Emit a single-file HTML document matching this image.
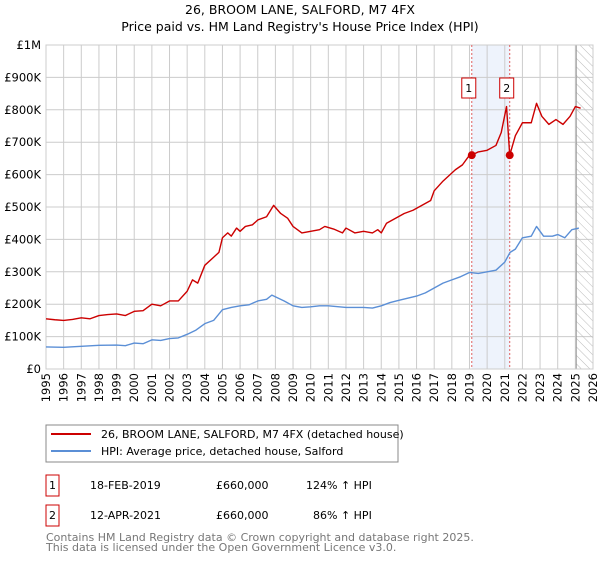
<!DOCTYPE html>
<html><head><meta charset="utf-8"><style>
body{margin:0;background:#fff;font-family:"Liberation Sans","DejaVu Sans",sans-serif;}
svg text{font-family:"DejaVu Sans","Liberation Sans",sans-serif;}
</style></head><body>
<svg id="chart" width="600" height="560" xmlns="http://www.w3.org/2000/svg">
<defs><pattern id="hatch" width="6" height="6" patternUnits="userSpaceOnUse" patternTransform="rotate(-45)"><line x1="0" y1="0" x2="0" y2="6" stroke="#bbb" stroke-width="1"/></pattern></defs>
<text x="300" y="14" text-anchor="middle" font-size="12.5">26, BROOM LANE, SALFORD, M7 4FX</text>
<text x="300" y="31" text-anchor="middle" font-size="12.5">Price paid vs. HM Land Registry's House Price Index (HPI)</text>
<g id="grid"></g><g id="marks"></g>
<g>
<rect x="46" y="425" width="352" height="37" fill="#fff" stroke="#888"/>
<line x1="51" y1="434" x2="91" y2="434" stroke="#cc0000" stroke-width="2"/>
<text x="101" y="438" font-size="11">26, BROOM LANE, SALFORD, M7 4FX (detached house)</text>
<line x1="51" y1="451" x2="91" y2="451" stroke="#5b8fd6" stroke-width="2"/>
<text x="101" y="455" font-size="11">HPI: Average price, detached house, Salford</text>
</g>
<g font-size="11">
<rect x="46" y="475" width="13" height="21" fill="#fff" stroke="#cc0000"/><text x="52.5" y="489" text-anchor="middle">1</text>
<text x="90" y="489">18-FEB-2019</text><text x="216" y="489">£660,000</text><text x="306" y="489">124% ↑ HPI</text>
<rect x="46" y="505" width="13" height="21" fill="#fff" stroke="#cc0000"/><text x="52.5" y="519" text-anchor="middle">2</text>
<text x="90" y="519">12-APR-2021</text><text x="216" y="519">£660,000</text><text x="313" y="519">86% ↑ HPI</text>
</g>
<text font-size="11" fill="#777"><tspan x="46" y="541">Contains HM Land Registry data © Crown copyright and database right 2025.</tspan><tspan x="46" y="551">This data is licensed under the Open Government Licence v3.0.</tspan></text>
</svg>
<script>
const yTicks=[0,100,200,300,400,500,600,700,800,900,1000];
const yTickLabels=["£0","£100K","£200K","£300K","£400K","£500K","£600K","£700K","£800K","£900K","£1M"];
const years=[1995,1996,1997,1998,1999,2000,2001,2002,2003,2004,2005,2006,2007,2008,2009,2010,2011,2012,2013,2014,2015,2016,2017,2018,2019,2020,2021,2022,2023,2024,2025,2026];
const redT=[1995,1995.5,1996,1996.5,1997,1997.5,1998,1998.5,1999,1999.5,2000,2000.5,2001,2001.5,2002,2002.5,2003,2003.3,2003.6,2004,2004.5,2004.8,2005,2005.3,2005.5,2005.8,2006,2006.3,2006.7,2007,2007.5,2007.9,2008.3,2008.7,2009,2009.5,2010,2010.5,2010.8,2011.3,2011.8,2012,2012.5,2013,2013.5,2013.8,2014,2014.3,2014.8,2015.3,2015.8,2016.3,2016.8,2017,2017.5,2017.8,2018.2,2018.6,2019,2019.13,2019.5,2020,2020.5,2020.8,2021.1,2021.28,2021.6,2022,2022.5,2022.8,2023.1,2023.5,2023.9,2024.3,2024.7,2025,2025.3];
const redV=[155,152,150,153,158,155,165,168,170,165,178,180,200,195,210,210,240,275,265,320,345,360,405,420,410,435,425,440,445,460,470,505,480,465,440,420,425,430,440,432,420,435,420,425,420,430,420,450,465,480,490,505,520,550,580,595,615,630,660,660,670,675,690,730,810,660,720,760,760,820,780,755,770,755,780,810,805];
const blueT=[1995,1996,1997,1998,1999,1999.5,2000,2000.5,2001,2001.5,2002,2002.5,2003,2003.5,2004,2004.5,2005,2005.5,2006,2006.5,2007,2007.5,2007.8,2008.5,2009,2009.5,2010,2010.5,2011,2012,2013,2013.5,2014,2014.5,2015,2016,2016.5,2017,2017.5,2018,2018.5,2019,2019.5,2020,2020.5,2021,2021.3,2021.6,2022,2022.5,2022.8,2023.2,2023.7,2024,2024.4,2024.8,2025.2];
const blueV=[68,67,70,73,74,72,80,78,90,88,94,96,107,120,140,150,183,190,195,198,210,215,228,210,195,190,192,195,195,190,190,188,195,205,212,225,235,250,265,275,285,298,295,300,305,330,360,370,405,410,440,410,410,415,405,430,435];
const saleT=[2019.13,2021.28];
const saleV=[660,660];
const X0=46,X1=593,Y0=369,Y1=45;
const xs=t=>X0+(t-1995)/31*(X1-X0);
const ys=v=>Y0-v/1000*(Y0-Y1);
const NS="http://www.w3.org/2000/svg";
function mk(tag,attrs,parent,txt){const e=document.createElementNS(NS,tag);for(const k in attrs)e.setAttribute(k,attrs[k]);if(txt!==undefined)e.textContent=txt;parent.appendChild(e);return e;}
const grid=document.getElementById('grid'),marks=document.getElementById('marks');
mk('rect',{x:xs(saleT[0]),y:Y1,width:xs(saleT[1])-xs(saleT[0]),height:Y0-Y1,fill:'#eef3fc'},grid);
yTicks.forEach((v,i)=>{
const l=mk('line',{x1:X0,x2:X1,y1:ys(v),y2:ys(v),stroke:'#ccc'},grid);


const t=mk('text',{x:41,y:ys(v)+4,'text-anchor':'end','font-size':'11.5'},grid,yTickLabels[i]);


});
years.forEach(y=>{
const l=mk('line',{x1:xs(y),x2:xs(y),y1:Y1,y2:Y0,stroke:'#ccc'},grid);


const t=mk('text',{x:0,y:0,'text-anchor':'end','font-size':'11.5',transform:`translate(${xs(y)+4},373) rotate(-90)`},grid,String(y));


});
const hat=mk('rect',{x:xs(2025.05),y:Y1,width:X1-xs(2025.05),height:Y0-Y1,fill:'url(#hatch)',stroke:'#999'},grid);


mk('rect',{x:X0,y:Y1,width:X1-X0,height:Y0-Y1,fill:'none',stroke:'#ccc'},grid);
saleT.forEach((t,i)=>{
const l=mk('line',{x1:xs(t),x2:xs(t),y1:Y1,y2:Y0,stroke:'#e06060','stroke-dasharray':'2,2'},marks);


const b=mk('rect',{x:xs(t)-10,y:78,width:14,height:20,fill:'#fff',stroke:'#cc0000'},marks);


mk('text',{x:xs(t)-3,y:92,'text-anchor':'middle','font-size':'11'},marks,String(i+1));
});
function line(T,V,c,name){const p=mk('polyline',{points:T.map((t,i)=>xs(t)+','+ys(V[i])).join(' '),fill:'none',stroke:c,'stroke-width':1.4,'stroke-linejoin':'round'},marks);

}
line(blueT,blueV,'#5b8fd6','hpi-line');
line(redT,redV,'#cc0000','price-line');
saleT.forEach((t,i)=>{
const c=mk('circle',{cx:xs(t),cy:ys(saleV[i]),r:4,fill:'#cc0000'},marks);


});
</script>
</body></html>
